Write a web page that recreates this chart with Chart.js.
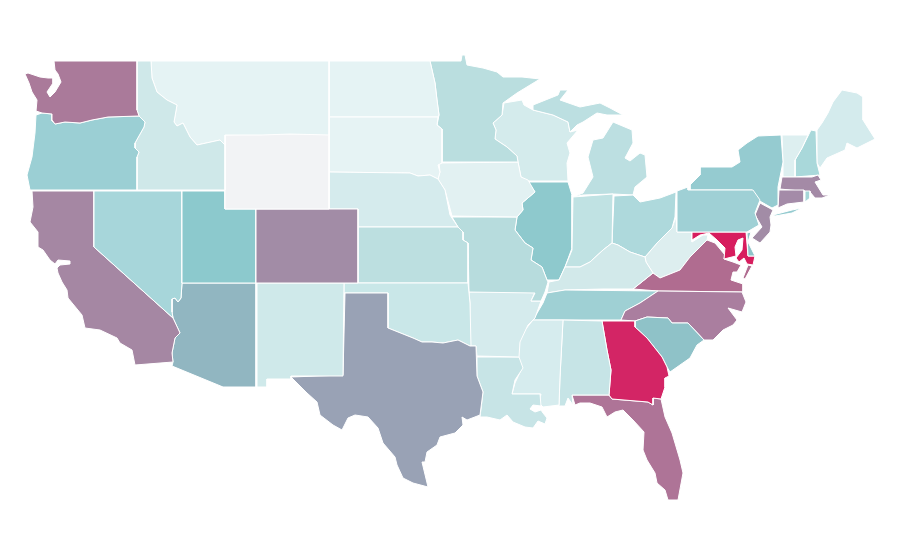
<!DOCTYPE html>
<html><head><meta charset="utf-8">
<style>html,body{margin:0;padding:0;background:#fff}canvas{display:block}</style>
<script src="https://cdn.jsdelivr.net/npm/chart.js"></script></head>
<body><canvas id="c" width="900" height="560"></canvas>
<script>
// State outlines, in map units
const WA=[[54,61],[137,61],[137,110],[139,116],[108,117],[92,120],[80,123],[65,122],[55,124],[52,120],[52,114],[42,113],[36,111],[37,100],[32,92],[29,83],[25,74],[28,73],[40,77],[48,78],[53,78],[53,83],[47,92],[50,97],[55,92],[61,82],[58,74],[55,70]];
const OR=[[36,115],[42,113],[52,114],[52,121],[55,124],[65,122],[80,123],[92,120],[108,117],[139,116],[145,122],[144,127],[135,143],[135,148],[139,152],[137,157],[137,190],[30,190],[27,175],[32,157],[35,133]];
const ID=[[137,61],[151,61],[152,78],[157,92],[167,100],[177,105],[174,122],[177,126],[183,123],[190,137],[197,145],[220,140],[225,145],[225,190],[137,190],[137,157],[139,152],[135,148],[135,143],[144,127],[145,122],[139,116],[137,110]];
const MT=[[151,61],[329,61],[329,135],[290,134],[262,135],[225,135],[225,145],[220,140],[197,145],[190,137],[183,123],[177,126],[174,122],[177,105],[167,100],[157,92],[152,78]];
const WY=[[225,135],[262,134],[290,134],[329,134],[329,209],[225,209]];
const CO=[[256,209],[358,209],[358,283],[256,283]];
const UT=[[182,191],[225,191],[225,209],[256,209],[256,283],[182,283]];
const NV=[[94,191],[182,191],[182,283],[181,298],[178,302],[175,298],[172,299],[172,312],[173,318],[94,247]];
const CA=[[32,191],[94,191],[94,247],[173,318],[180,333],[175,338],[172,353],[173,362],[135,365],[132,350],[120,343],[117,338],[100,330],[85,328],[82,315],[68,298],[67,290],[62,282],[58,273],[57,268],[60,265],[70,264],[70,261],[58,260],[55,264],[50,260],[43,250],[38,247],[38,232],[30,222],[33,207]];
const AZ=[[182,283],[256,283],[256,387],[223,387],[172,366],[173,362],[172,353],[175,338],[180,333],[173,318],[172,312],[172,299],[175,298],[178,302],[181,298]];
const NM=[[257,283],[344,283],[343,376],[291,376],[291,379],[267,379],[267,387],[257,387]];
const TX=[[345,293],[388,293],[388,328],[398,332],[413,338],[422,342],[432,342],[443,343],[458,340],[470,346],[476,346],[477,376],[483,392],[480,415],[467,420],[462,417],[463,425],[455,433],[440,437],[437,445],[427,452],[425,462],[422,462],[428,487],[413,483],[403,478],[397,465],[395,457],[383,443],[378,428],[368,417],[355,415],[348,418],[342,430],[333,425],[320,415],[317,402],[307,393],[291,377],[343,375]];
const OK=[[344,283],[468,283],[470,303],[471,346],[470,346],[458,340],[443,343],[432,342],[422,342],[413,338],[398,332],[388,328],[388,293],[344,293]];
const KS=[[358,227],[458,227],[463,232],[463,240],[468,243],[468,283],[358,283]];
const NE=[[329,172],[410,173],[418,176],[430,175],[438,179],[445,190],[450,215],[458,227],[358,227],[358,209],[329,209]];
const SD=[[329,117],[438,117],[437,125],[442,129],[442,163],[438,165],[440,172],[438,179],[430,175],[418,176],[410,173],[329,172]];
const ND=[[329,61],[430,61],[435,83],[437,100],[439,115],[438,117],[329,117]];
const MN=[[430,61],[461,61],[462,55],[465,55],[467,65],[483,68],[497,72],[503,77],[522,77],[540,79],[517,93],[503,103],[502,115],[493,123],[496,130],[495,139],[507,147],[517,156],[518,162],[442,162],[442,129],[437,125],[439,115],[437,100],[435,83]];
const IA=[[439,163],[518,162],[521,177],[528,180],[535,192],[522,203],[523,210],[517,217],[452,216],[445,190],[438,179],[440,172]];
const WI=[[504,103],[522,100],[524,105],[533,110],[553,115],[568,122],[570,132],[578,130],[567,143],[570,153],[567,163],[568,181],[528,181],[521,177],[518,162],[517,156],[507,147],[495,139],[496,130],[493,123],[502,115]];
const IL=[[528,182],[568,182],[572,195],[572,248],[565,267],[559,280],[547,280],[542,267],[531,260],[533,248],[525,243],[515,230],[517,217],[523,210],[522,203],[535,192]];
const MO=[[452,217],[517,217],[515,230],[525,243],[533,248],[531,260],[542,267],[547,280],[548,282],[545,292],[541,301],[531,301],[535,293],[469,292],[468,243],[463,240],[463,232],[458,227]];
const AR=[[469,292],[535,292],[531,301],[541,301],[535,318],[528,325],[520,342],[519,357],[477,356],[476,346],[470,346],[470,303]];
const LA=[[477,357],[519,357],[523,368],[515,380],[512,394],[540,394],[541,406],[533,405],[530,409],[535,412],[541,410],[543,413],[547,418],[545,424],[550,430],[545,424],[538,421],[533,428],[525,427],[513,422],[507,415],[500,420],[487,417],[480,417],[483,392],[477,376]];
const MS=[[533,320],[563,320],[560,377],[559,405],[543,407],[539,403],[541,394],[512,394],[515,383],[522,368],[518,356],[520,337],[525,330]];
const AL=[[563,320],[602,321],[607,350],[611,370],[609,395],[572,395],[573,405],[568,398],[565,406],[559,406],[560,377]];
const GA=[[602,321],[635,321],[635,327],[647,338],[662,357],[667,367],[669,376],[665,378],[665,387],[661,399],[653,398],[653,405],[648,402],[612,399],[609,395],[611,370],[607,350]];
const FL=[[572,395],[609,395],[612,399],[648,402],[653,405],[653,398],[661,399],[665,417],[672,433],[680,460],[683,473],[678,500],[668,500],[665,490],[657,483],[655,473],[647,460],[643,450],[644,432],[633,420],[623,410],[615,412],[607,417],[602,407],[590,403],[580,403],[575,405]];
const SC=[[635,321],[647,317],[668,318],[672,323],[688,323],[704,340],[697,345],[690,358],[680,365],[670,372],[667,367],[662,357],[647,338],[635,327]];
const NC=[[621,320],[625,311],[640,303],[658,291],[742,292],[746,302],[742,312],[728,308],[737,320],[733,325],[723,330],[713,340],[704,340],[688,323],[672,323],[668,318],[647,317],[635,321]];
const TN=[[547,293],[565,290],[658,291],[640,303],[625,311],[621,320],[533,320],[543,303]];
const KY=[[547,293],[549,282],[559,280],[565,267],[580,267],[590,262],[603,250],[612,243],[618,245],[630,252],[645,257],[646,262],[653,273],[633,289],[603,289],[565,290]];
const IN=[[573,197],[613,194],[612,243],[603,250],[590,262],[580,267],[565,267],[572,250]];
const OH=[[614,196],[633,195],[640,202],[660,198],[676,192],[675,217],[672,228],[657,243],[645,257],[630,252],[618,245],[612,243]];
const MI_LOWER=[[573,197],[583,195],[613,194],[633,195],[635,187],[647,177],[645,155],[640,153],[630,161],[625,158],[633,143],[632,130],[613,122],[603,138],[593,140],[588,157],[593,177],[583,193]];
const MI_UPPER=[[533,110],[533,105],[558,95],[560,90],[568,90],[560,100],[580,107],[600,103],[610,108],[623,115],[607,115],[597,113],[583,122],[577,125],[570,132],[568,122],[553,115]];
const PA=[[677,191],[688,187],[688,190],[753,190],[760,200],[755,213],[759,225],[747,232],[677,232]];
const NY=[[690,190],[752,190],[758,200],[772,208],[778,205],[778,187],[783,162],[781,135],[758,136],[747,143],[738,150],[740,162],[732,167],[718,167],[700,167],[700,175],[690,185]];
const NY_ISLAND=[[773,215],[792,210],[802,208],[792,213],[775,216]];
const NJ=[[760,203],[773,210],[770,217],[771,225],[770,232],[760,243],[752,238],[762,227],[755,215]];
const DE=[[747,233],[751,232],[748,242],[755,256],[748,256]];
const MD=[[692,232],[746,232],[748,256],[755,256],[753,265],[747,264],[744,258],[739,262],[736,258],[742,250],[743,238],[738,240],[735,247],[736,256],[724,259],[725,248],[717,240],[709,233],[700,235],[692,240]];
const VA=[[633,289],[653,273],[660,278],[680,270],[690,257],[707,240],[715,243],[725,255],[724,259],[733,262],[741,265],[737,272],[733,272],[731,280],[743,284],[743,292],[658,291]];
const VA_SHORE=[[748,265],[752,266],[745,279],[743,278]];
const WV=[[676,217],[677,232],[692,232],[692,242],[703,235],[708,235],[707,240],[697,250],[690,257],[680,270],[660,278],[653,273],[646,262],[645,257],[657,243],[672,228]];
const CT=[[779,190],[804,190],[804,202],[787,204],[778,208]];
const RI=[[805,191],[810,191],[810,198],[805,202]];
const MA=[[782,177],[812,177],[818,175],[821,180],[815,182],[823,195],[830,195],[822,198],[815,198],[810,192],[780,189]];
const VT=[[782,135],[808,135],[802,148],[795,160],[795,177],[783,177],[783,162]];
const NH=[[811,130],[816,131],[817,163],[820,175],[795,177],[795,160],[802,148]];
const ME=[[817,130],[822,123],[828,113],[833,102],[842,90],[857,93],[863,97],[863,120],[875,139],[857,148],[847,143],[845,150],[827,158],[820,168],[817,163]];

const stateNames=["WA","OR","ID","MT","WY","CO","UT","NV","CA","AZ","NM","TX","OK","KS","NE","SD","ND","MN","IA","MO","AR","LA","MS","AL","GA","FL","SC","NC","TN","KY","IN","OH","MI","MI","PA","NY","NY","NJ","DE","MD","VA","VA","WV","CT","RI","MA","VT","NH","ME","WI","IL"];
const stateShapes=[WA,OR,ID,MT,WY,CO,UT,NV,CA,AZ,NM,TX,OK,KS,NE,SD,ND,MN,IA,MO,AR,LA,MS,AL,GA,FL,SC,NC,TN,KY,IN,OH,MI_LOWER,MI_UPPER,PA,NY,NY_ISLAND,NJ,DE,MD,VA,VA_SHORE,WV,CT,RI,MA,VT,NH,ME,WI,IL];
const stateColors=["#aa7a9a","#9bcfd4","#cfe8e9","#e5f3f4","#f2f3f5","#a28ca6","#8cc9cd","#a7d6da","#a587a3","#91b6c1","#cfe9ea","#99a2b5","#c9e7e8","#bcdfe0","#d5ebed","#e6f3f4","#e5f3f4","#badedf","#e2f1f2","#b7dcdd","#d5ebed","#c7e4e6","#d6ecee","#c6e4e6","#d32565","#ae7497","#8fc2c8","#aa7e9f","#9fd0d4","#d2e9ea","#c0e2e3","#aed9dc","#bcdfe1","#bcdfe1","#9fd0d5","#95cbd0","#95cbd0","#a28ca6","#8ec4c9","#d71d5e","#b06c90","#b06c90","#ddeeef","#a48ba8","#a5d6d8","#a48aa6","#ddeff0","#a9d8da","#d4ebed","#d4ebec","#8ec9cd"];

const datasets=stateShapes.map((s,i)=>({
  label:stateNames[i],
  data:s.concat([s[0]]).map(p=>({x:p[0],y:p[1]})),
  showLine:true,fill:'shape',tension:0,pointRadius:0,
  backgroundColor:stateColors[i],borderColor:'#ffffff',borderWidth:1,clip:false
}));
new Chart(document.getElementById('c'),{
  type:'scatter',data:{datasets},
  options:{responsive:false,animation:false,events:[],layout:{padding:0},
    plugins:{legend:{display:false},tooltip:{enabled:false},title:{display:false}},
    scales:{x:{type:'linear',display:false,min:0,max:900},y:{type:'linear',display:false,min:0,max:560,reverse:true}}}
});
</script></body></html>
